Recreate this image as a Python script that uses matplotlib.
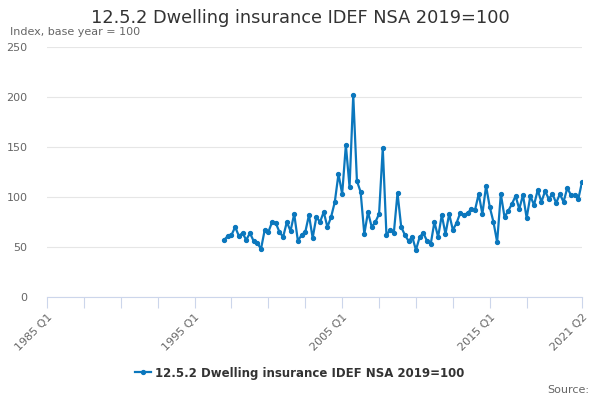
import matplotlib
matplotlib.use("Agg")
import matplotlib.pyplot as plt
from matplotlib.lines import Line2D

title = "12.5.2 Dwelling insurance IDEF NSA 2019=100"
y_label = "Index, base year = 100"
series_name = "12.5.2 Dwelling insurance IDEF NSA 2019=100"
axis_start_year = 1985
axis_end = (2021, 2)
data_start = (1997, 1)
values = [57, 61, 62, 70, 61, 64, 57, 64, 56, 54,
          48, 67, 65, 75, 74, 65, 60, 75, 66, 83,
          56, 62, 65, 82, 59, 80, 75, 85, 70, 80,
          95, 123, 103, 152, 110, 202, 116, 105, 63, 85,
          70, 75, 83, 149, 62, 67, 64, 104, 70, 62,
          56, 60, 47, 60, 64, 56, 53, 75, 60, 82,
          63, 83, 67, 74, 84, 82, 84, 88, 87, 103,
          83, 111, 90, 75, 55, 103, 80, 86, 93, 101,
          88, 102, 79, 101, 92, 107, 95, 106, 98, 103,
          94, 103, 95, 109, 102, 102, 98, 115]
tick_labels = ["1985 Q1", "1995 Q1", "2005 Q1", "2015 Q1", "2021 Q2"]
y_ticks = [0, 50, 100, 150, 200, 250]

def qidx(y, q):
    return (y - axis_start_year) * 4 + (q - 1)

x0 = qidx(*data_start)
xs = list(range(x0, x0 + len(values)))
xmax = qidx(*axis_end)

color = "#0b77bd"
fig = plt.figure(figsize=(6, 4), dpi=100)
ax = fig.add_axes([47/600, 103/400, 535/600, 250/400])
ax.plot(xs, values, color=color, lw=1.6, marker="o", ms=2.8, zorder=3)

ax.set_xlim(0, xmax)
ax.set_ylim(0, 250)
ax.set_yticks(y_ticks)
ax.set_yticklabels([str(v) for v in y_ticks], color="#666666", fontsize=8)
ax.grid(axis="y", color="#e6e6e6", lw=0.8)
ax.set_axisbelow(True)
for s in ["left", "right", "top"]:
    ax.spines[s].set_visible(False)
ax.spines["bottom"].set_color("#ccd6eb")
ax.tick_params(axis="y", length=0, pad=14)

ticks = list(range(0, xmax - 10, 10)) + [xmax]
ax.set_xticks(ticks)
labs = []
for m in ticks:
    y = axis_start_year + m // 4
    q = m % 4 + 1
    lab = f"{y} Q{q}"
    labs.append(lab if lab in tick_labels else "")
ax.set_xticklabels(labs, rotation=45, ha="right", rotation_mode="anchor",
                   color="#666666", fontsize=8)
ax.tick_params(axis="x", length=8, color="#ccd6eb", pad=3)

fig.text(0.5, 1 - 18/400, title, ha="center", va="center", fontsize=12.8, color="#333333")
fig.text(10/600, 1 - 32/400, y_label, ha="left", va="center", fontsize=8, color="#666666")

handle = Line2D([], [], color=color, lw=1.6, marker="o", ms=2.8)
leg = fig.legend([handle], [series_name], loc="center", bbox_to_anchor=(0.5, 1 - 373/400),
                 frameon=False, prop={"weight": "bold", "size": 8.5}, handlelength=1.3,
                 handletextpad=0.4)
for t in leg.get_texts():
    t.set_color("#333333")
fig.text(589/600, 1 - 390/400, "Source:", ha="right", va="center", fontsize=8, color="#666666")

fig.savefig("out.png", dpi=100)
